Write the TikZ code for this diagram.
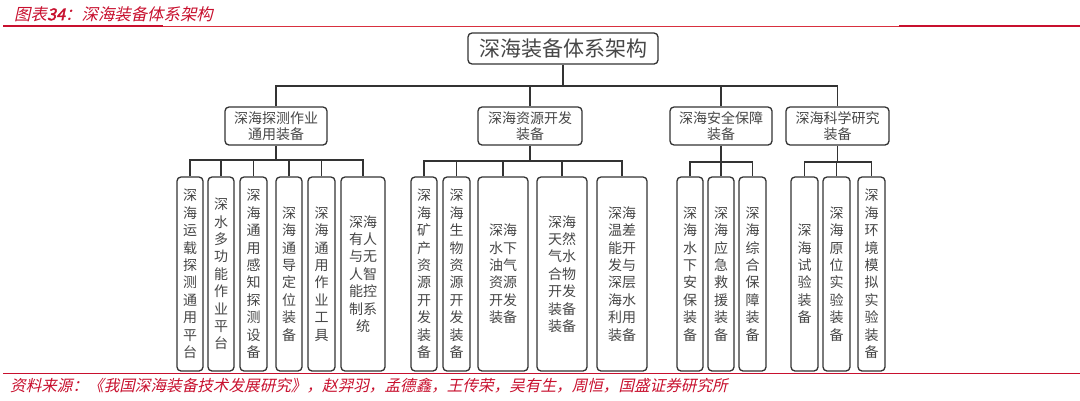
\documentclass[tikz,border=0pt]{standalone}
\usepackage{fontspec}
\newfontfamily\cjk{Noto Sans CJK SC}
\newfontfamily\cjkit[FakeSlant=0.22]{Noto Sans CJK SC}
\newfontfamily\cjkbit[FakeSlant=0.22,FakeBold=2]{Noto Sans CJK SC}
\definecolor{hdred}{HTML}{C8102E}
\definecolor{hdlight}{HTML}{D8303F}
\tikzset{
  box/.style={draw=black!80, line width=1.3pt, rounded corners=4pt, inner sep=0pt,
    align=center, text=black!72, font=\cjk\fontsize{14}{17.4}\selectfont},
  midbox/.style={box, minimum width=102pt, minimum height=38pt, font=\cjk\fontsize{14}{16}\selectfont},
  leaf/.style={box, minimum height=194pt},
  conn/.style={draw=black!80, line width=1.3pt},
}
\begin{document}
\begin{tikzpicture}[x=1pt,y=-1pt]
\useasboundingbox (0,0) rectangle (1080,400);
\fill[white] (0,0) rectangle (1080,400);

% header
\node[anchor=west, inner sep=0pt, text=hdred, font=\cjkit\fontsize{16.4}{17}\selectfont] (title) at (14,14)
  {图表{\cjkbit 34}：深海装备体系架构};
\draw[hdred, line width=1.5pt] (3,26) -- (163,26);
\draw[hdlight, line width=1pt] (163,26) -- (899,26);
\draw[hdred, line width=1.5pt] (899,26) -- (1080,26);

% footer
\draw[hdred, line width=1.4pt] (3,373.5) -- (1080,373.5);
\node[anchor=west, inner sep=0pt, text=hdred, font=\cjkit\fontsize{15.6}{16}\selectfont] (source) at (10,385.5)
  {资料来源：《我国深海装备技术发展研究》，赵羿羽，孟德鑫，王传荣，吴有生，周恒，国盛证券研究所};

% root
\node[box, minimum width=190pt, minimum height=31pt, font=\cjk\fontsize{21}{24}\selectfont] (root) at (563,48.5) {深海装备体系架构};

% level 2
\node[midbox] (A) at (276,126) {深海探测作业\\通用装备};
\node[midbox, minimum width=104pt] (B) at (530,126) {深海资源开发\\装备};
\node[midbox] (C) at (721,126) {深海安全保障\\装备};
\node[midbox, minimum width=103pt] (D) at (837.5,126) {深海科学研究\\装备};

\coordinate (bus0) at (0,86);
\draw[conn] (root.south) -- (root.south |- bus0);
\draw[conn] (A.north) -- (A.north |- bus0) -- (D.north |- bus0) -- (D.north);
\draw[conn] (B.north) -- (B.north |- bus0);
\draw[conn] (C.north) -- (C.north |- bus0);

% group A leaves
\node[leaf, minimum width=26pt] (a1) at (190,274) {深\\海\\运\\载\\探\\测\\通\\用\\平\\台};
\node[leaf, minimum width=26pt] (a2) at (221,274) {深\\水\\多\\功\\能\\作\\业\\平\\台};
\node[leaf, minimum width=27pt] (a3) at (253.5,274) {深\\海\\通\\用\\感\\知\\探\\测\\设\\备};
\node[leaf, minimum width=26pt] (a4) at (289,274) {深\\海\\通\\导\\定\\位\\装\\备};
\node[leaf, minimum width=27pt] (a5) at (321.5,274) {深\\海\\通\\用\\作\\业\\工\\具};
\node[leaf, minimum width=44pt] (a6) at (363,274) {深海\\有人\\与无\\人智\\能控\\制系\\统};

\coordinate (busA) at (0,160);
\draw[conn] (A.south) -- (A.south |- busA);
\draw[conn] (a1.north) -- (a1.north |- busA) -- (a6.north |- busA) -- (a6.north);
\foreach \n in {a2,a3,a4,a5} \draw[conn] (\n.north) -- (\n.north |- busA);

% group B leaves
\node[leaf, minimum width=26pt] (b1) at (424,274) {深\\海\\矿\\产\\资\\源\\开\\发\\装\\备};
\node[leaf, minimum width=27pt] (b2) at (456.5,274) {深\\海\\生\\物\\资\\源\\开\\发\\装\\备};
\node[leaf, minimum width=50pt] (b3) at (503,274) {深海\\水下\\油气\\资源\\开发\\装备};
\node[leaf, minimum width=50pt] (b4) at (562,274) {深海\\天然\\气水\\合物\\开发\\装备\\装备};
\node[leaf, minimum width=50pt] (b5) at (622,274) {深海\\温差\\能开\\发与\\深层\\海水\\利用\\装备};

\coordinate (busB) at (0,161);
\draw[conn] (B.south) -- (B.south |- busB);
\draw[conn] (b1.north) -- (b1.north |- busB) -- (b5.north |- busB) -- (b5.north);
\foreach \n in {b2,b3,b4} \draw[conn] (\n.north) -- (\n.north |- busB);

% group C leaves
\node[leaf, minimum width=26pt] (c1) at (690,274) {深\\海\\水\\下\\安\\保\\装\\备};
\node[leaf, minimum width=26pt] (c2) at (721,274) {深\\海\\应\\急\\救\\援\\装\\备};
\node[leaf, minimum width=27pt] (c3) at (752.5,274) {深\\海\\综\\合\\保\\障\\装\\备};

\coordinate (busC) at (0,162);
\draw[conn] (C.south) -- (C.south |- busC);
\draw[conn] (c1.north) -- (c1.north |- busC) -- (c3.north |- busC) -- (c3.north);
\draw[conn] (c2.north) -- (c2.north |- busC);

% group D leaves
\node[leaf, minimum width=27pt] (d1) at (804.5,274) {深\\海\\试\\验\\装\\备};
\node[leaf, minimum width=27pt] (d2) at (836.5,274) {深\\海\\原\\位\\实\\验\\装\\备};
\node[leaf, minimum width=27pt] (d3) at (871.5,274) {深\\海\\环\\境\\模\\拟\\实\\验\\装\\备};

\coordinate (busD) at (0,162);
\draw[conn] (D.south) -- (D.south |- busD);
\draw[conn] (d1.north) -- (d1.north |- busD) -- (d3.north |- busD) -- (d3.north);
\draw[conn] (d2.north) -- (d2.north |- busD);
\end{tikzpicture}
\end{document}
